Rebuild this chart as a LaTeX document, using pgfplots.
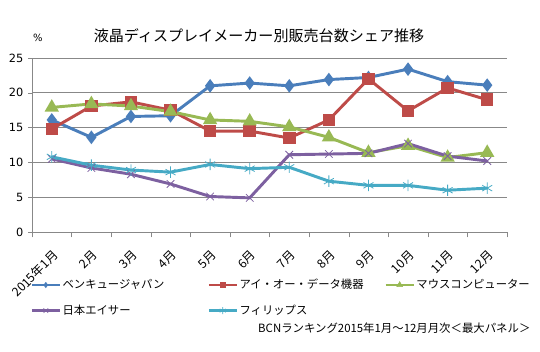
\documentclass[border=0pt]{standalone}
\usepackage{pgfplots}
\pgfplotsset{compat=1.18}
\usepackage{fontspec}
\setmainfont{Noto Sans CJK JP}
\newfontfamily\dejavu{DejaVu Sans}
\definecolor{cblue}{HTML}{4A7EBB}
\definecolor{cred}{HTML}{BE4B48}
\definecolor{cgreen}{HTML}{98B954}
\definecolor{cpurple}{HTML}{7D60A0}
\definecolor{ccyan}{HTML}{46AAC5}
\definecolor{cgrid}{HTML}{888888}
\begin{document}
\begin{tikzpicture}
\path[use as bounding box] (0,0) rectangle (405pt,264pt);
\begin{axis}[
  at={(24pt,90pt)}, anchor=south west,
  scale only axis, width=356.25pt, height=130.5pt,
  xmin=0.5, xmax=12.5, ymin=0, ymax=25,
  axis x line=bottom, axis y line=left,
  axis line style={draw=cgrid, -},
  xtick={1,...,12},
  xticklabels={2015年1月,2月,3月,4月,5月,6月,7月,8月,9月,10月,11月,12月},
  xtick style={draw=none},
  extra x ticks={0.5,1.5,...,12.5},
  extra x tick labels={},
  extra x tick style={xtick style={draw=cgrid}, major tick length=4pt, tick align=outside},
  ytick={0,5,...,25},
  ytick style={draw=cgrid},
  tick align=outside, major tick length=3pt,
  ymajorgrids, grid style={draw=cgrid, line width=0.6pt},
  xticklabel style={rotate=45, anchor=east, font=\fontsize{9.2}{9.5}\selectfont, xshift=-3.5pt, yshift=-11pt},
  yticklabel style={font=\dejavu\fontsize{8.5}{9}\selectfont},
  /pgf/number format/assume math mode=true,
  every axis plot/.append style={line width=2.2pt},
  legend columns=3,
  legend image code/.code={\draw[mark repeat=2,mark phase=2,line width=2.2pt,#1]
    plot coordinates {(0pt,0pt) (10.5pt,0pt) (21pt,0pt)};},
  legend style={at={(-0.004,-0.262)}, anchor=north west, draw=none, fill=none,
    inner sep=0pt, row sep=8.5pt,
    font=\fontsize{8.5}{9}\selectfont,
    nodes={text width=107.5pt, align=left, inner sep=1pt},
    column 4/.style={nodes={text width=105.5pt}}},
  legend cell align=left,
  clip=false,
]
\addlegendimage{color=cblue, mark=diamond*, mark size=2pt, mark options={line width=0.4pt}}
\addlegendentry{ベンキュージャパン}
\addlegendimage{color=cred, mark=square*, mark size=2pt, mark options={line width=0.4pt}}
\addlegendentry{アイ・オー・データ機器}
\addlegendimage{color=cgreen, mark=triangle*, mark size=2.5pt, mark options={line width=0.4pt}}
\addlegendentry{マウスコンピューター}
\addlegendimage{color=cpurple, mark=x, mark size=2.5pt, mark options={line width=0.4pt}}
\addlegendentry{日本エイサー}
\addlegendimage{color=ccyan, mark=asterisk, mark size=2.6pt, mark options={line width=0.4pt}}
\addlegendentry{フィリップス}
\addplot[forget plot, color=cblue, mark=diamond*, mark size=3.3pt, mark options={solid}] coordinates {
(1,16.1) (2,13.6) (3,16.6) (4,16.7) (5,21.0) (6,21.4) (7,21.0) (8,21.9) (9,22.2) (10,23.4) (11,21.6) (12,21.1)};
\addplot[forget plot, color=cred, mark=square*, mark size=3.6pt] coordinates {
(1,14.8) (2,18.1) (3,18.7) (4,17.5) (5,14.5) (6,14.5) (7,13.5) (8,16.1) (9,22.0) (10,17.4) (11,20.7) (12,19.0)};
\addplot[forget plot, color=cgreen, mark=triangle*, mark size=4pt] coordinates {
(1,17.9) (2,18.4) (3,18.1) (4,17.3) (5,16.1) (6,15.9) (7,15.1) (8,13.6) (9,11.4) (10,12.4) (11,10.7) (12,11.4)};
\addplot[forget plot, color=cpurple, mark=x, mark size=4pt, mark options={line width=0.6pt}] coordinates {
(1,10.5) (2,9.2) (3,8.3) (4,6.9) (5,5.1) (6,4.9) (7,11.1) (8,11.2) (9,11.3) (10,12.7) (11,10.9) (12,10.2)};
\addplot[forget plot, color=ccyan, mark=asterisk, mark size=4.3pt, mark options={line width=0.6pt}] coordinates {
(1,10.8) (2,9.6) (3,8.9) (4,8.6) (5,9.7) (6,9.1) (7,9.3) (8,7.3) (9,6.7) (10,6.7) (11,6.0) (12,6.3)};
\end{axis}
\node[font=\fontsize{11.3}{12}\selectfont] at (194.25pt,237.5pt) {液晶ディスプレイメーカー別販売台数シェア推移};
\node[font=\dejavu\fontsize{7.5}{8}\selectfont] at (28.5pt,235.5pt) {\%};
\node[anchor=east, font=\fontsize{8.55}{9}\selectfont, inner sep=0pt] at (398pt,18pt) {BCNランキング2015年1月～12月月次＜最大パネル＞};
\end{tikzpicture}
\end{document}
